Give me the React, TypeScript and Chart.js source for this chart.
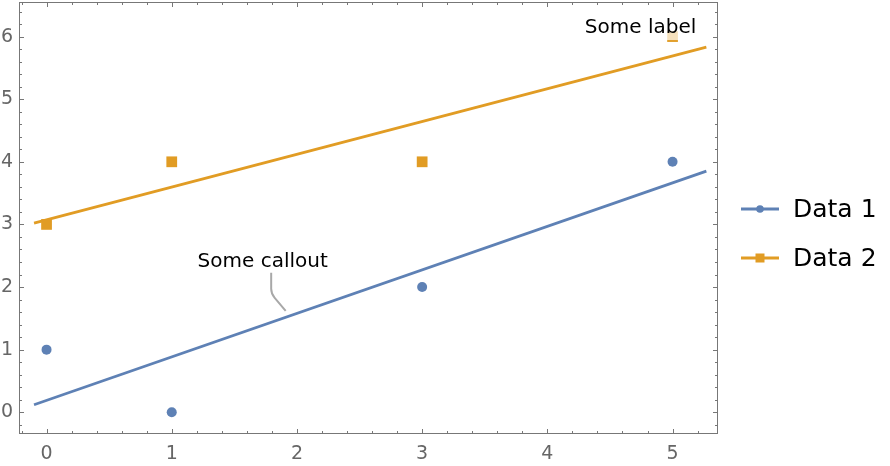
import React, { useEffect, useRef } from "react";
import { Chart, registerables } from "chart.js";
Chart.register(...registerables);

// ---- data ----
const data1X = [0, 1, 3, 5];
const data1Y = [1, 0, 2, 4];
const data2X = [0, 1, 3, 5];
const data2Y = [3, 4, 4, 6];
const fitX = [-0.1, 5.27];
const fit1Y = [0.12, 3.85];
const fit2Y = [3.02, 5.83];
const xTicks = [0, 1, 2, 3, 4, 5];
const yTicks = [0, 1, 2, 3, 4, 5, 6];
const seriesNames = ["Data 1", "Data 2"];
const calloutText = "Some callout";
const calloutAnchor = { x: 1.91, y: 1.62 };
const labelText = "Some label";
const labelAnchor = { x: 5, y: 6 };

const BLUE = "#5e81b5";
const ORANGE = "#e19c24";
const FRAME = "#777777";
const TICKTXT = "#666666";
const FONT = "'DejaVu Sans', sans-serif";

const framePlugin = {
  id: "frame",
  beforeDatasetsDraw(chart: any) {
    const { ctx, chartArea: a, scales } = chart;
    const L = Math.round(a.left) + 0.5;
    const R = Math.round(a.right) - 0.5;
    const T = Math.round(a.top) + 0.5;
    const B = Math.round(a.bottom) - 0.5;
    ctx.save();
    ctx.strokeStyle = FRAME;
    ctx.lineWidth = 1;
    ctx.strokeRect(L, T, R - L, B - T);
    const xs = scales.x, ys = scales.y;
    ctx.beginPath();
    for (let k = Math.ceil(xs.min / 0.2); k <= Math.floor(xs.max / 0.2); k++) {
      const v = k * 0.2;
      const len = k % 5 === 0 ? 4.5 : 2.5;
      const px = Math.round(xs.getPixelForValue(v)) + 0.5;
      ctx.moveTo(px, B); ctx.lineTo(px, B - len);
      ctx.moveTo(px, T); ctx.lineTo(px, T + len);
    }
    for (let k = Math.ceil(ys.min / 0.2); k <= Math.floor(ys.max / 0.2); k++) {
      const v = k * 0.2;
      const len = k % 5 === 0 ? 4.5 : 2.5;
      const py = Math.round(ys.getPixelForValue(v)) + 0.5;
      ctx.moveTo(L, py); ctx.lineTo(L + len, py);
      ctx.moveTo(R, py); ctx.lineTo(R - len, py);
    }
    ctx.stroke();
    ctx.restore();
  },
  afterDatasetsDraw(chart: any) {
    const { ctx, scales } = chart;
    const xs = scales.x, ys = scales.y;
    ctx.save();
    // callout
    const cx = xs.getPixelForValue(calloutAnchor.x);
    const cy = ys.getPixelForValue(calloutAnchor.y);
    ctx.strokeStyle = "#a8a8a8";
    ctx.lineWidth = 2;
    ctx.beginPath();
    ctx.moveTo(cx - 14.5, cy - 38);
    ctx.lineTo(cx - 14.5, cy - 22);
    ctx.quadraticCurveTo(cx - 14.5, cy - 17, cx - 11, cy - 13);
    ctx.lineTo(cx, cy);
    ctx.stroke();
    ctx.fillStyle = "#000";
    ctx.font = `20px ${FONT}`;
    ctx.textAlign = "center";
    ctx.textBaseline = "alphabetic";
    ctx.fillText(calloutText, cx - 23, cy - 44);
    // label
    const lx = xs.getPixelForValue(labelAnchor.x);
    const ly = ys.getPixelForValue(labelAnchor.y);
    ctx.fillStyle = "rgba(255,255,255,0.7)";
    ctx.fillRect(lx - 92, ly - 23, 121, 26.5);
    ctx.fillStyle = "#000";
    ctx.fillText(labelText, lx - 32, ly - 4);
    ctx.restore();
  },
  afterDraw(chart: any) {
    const { ctx } = chart;
    ctx.save();
    const rows = [
      { name: seriesNames[0], color: BLUE, y: 209, shape: "circle" },
      { name: seriesNames[1], color: ORANGE, y: 258, shape: "rect" },
    ];
    for (const r of rows) {
      ctx.strokeStyle = r.color;
      ctx.fillStyle = r.color;
      ctx.lineWidth = 2.8;
      ctx.beginPath();
      ctx.moveTo(741, r.y);
      ctx.lineTo(779, r.y);
      ctx.stroke();
      if (r.shape === "circle") {
        ctx.beginPath();
        ctx.arc(760, r.y, 3.8, 0, Math.PI * 2);
        ctx.fill();
      } else {
        ctx.fillRect(755.5, r.y - 4.5, 9, 9);
      }
      ctx.fillStyle = "#000";
      ctx.font = `25px ${FONT}`;
      ctx.textAlign = "left";
      ctx.textBaseline = "alphabetic";
      ctx.fillText(r.name, 793, r.y + 7.5);
    }
    ctx.restore();
  },
};

export default function App() {
  const ref = useRef<HTMLCanvasElement>(null);
  useEffect(() => {
    document.body.style.margin = "0";
    const canvas = ref.current!;
    const pts = (xs: number[], ys: number[]) => xs.map((x, i) => ({ x, y: ys[i] }));
    const chart = new Chart(canvas, {
      type: "scatter",
      data: {
        datasets: [
          { data: pts(fitX, fit1Y), showLine: true, borderColor: BLUE, borderWidth: 2.8, pointRadius: 0, order: 4 } as any,
          { data: pts(fitX, fit2Y), showLine: true, borderColor: ORANGE, borderWidth: 2.8, pointRadius: 0, order: 3 } as any,
          { data: pts(data1X, data1Y), pointStyle: "circle", pointRadius: 5, backgroundColor: BLUE, borderWidth: 0, order: 2 } as any,
          { data: pts(data2X, data2Y), pointStyle: "rect", pointRadius: 7.6, backgroundColor: ORANGE, borderWidth: 0, order: 1 } as any,
        ],
      },
      options: {
        responsive: false,
        animation: false,
        devicePixelRatio: 1,
        layout: { autoPadding: false, padding: { top: 2, right: 172, left: 0, bottom: 0 } },
        plugins: { legend: { display: false }, tooltip: { enabled: false } },
        scales: {
          x: {
            type: "linear",
            min: -0.22,
            max: 5.363,
            grid: { display: false, drawTicks: false },
            border: { display: false },
            afterFit(s: any) { s.height = 32; s.paddingLeft = 0; s.paddingRight = 0; s.paddingTop = 0; s.paddingBottom = 0; },
            afterBuildTicks(s: any) { s.ticks = xTicks.map((v) => ({ value: v })); },
            ticks: { padding: 9, color: TICKTXT, font: { family: FONT, size: 19 }, callback: (v: any) => String(v) },
          },
          y: {
            type: "linear",
            min: -0.347,
            max: 6.552,
            grid: { display: false, drawTicks: false },
            border: { display: false },
            afterFit(s: any) { s.width = 19; s.paddingTop = 0; s.paddingBottom = 0; s.paddingLeft = 0; s.paddingRight = 0; },
            afterBuildTicks(s: any) { s.ticks = yTicks.map((v) => ({ value: v })); },
            ticks: { padding: 6, color: TICKTXT, font: { family: FONT, size: 19 }, callback: (v: any) => String(v) },
          },
        },
      },
      plugins: [framePlugin],
    });
    return () => chart.destroy();
  }, []);
  return (
    <div style={{ width: 890, height: 466, position: "relative", background: "#fff" }}>
      <canvas ref={ref} width={890} height={466} style={{ display: "block" }} />
    </div>
  );
}
